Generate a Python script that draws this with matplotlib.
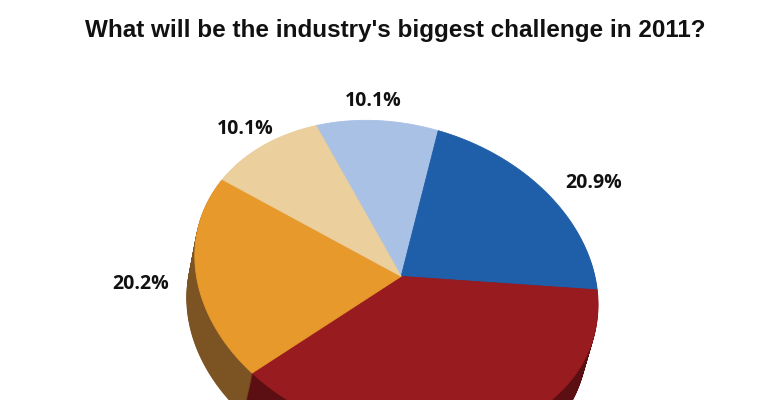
import numpy as np
import matplotlib
matplotlib.use("Agg")
import matplotlib.pyplot as plt
import matplotlib.transforms as mtransforms
from matplotlib.path import Path

# slices clockwise from the top: light blue, blue, red, orange, tan
values = [10.1, 20.9, 38.7, 20.2, 10.1]
labels = ["10.1%", "20.9%", "", "20.2%", "10.1%"]
title = "What will be the industry's biggest challenge in 2011?"

colors = ["#a9c1e5", "#1f5fa9", "#971b1f", "#e8992b", "#ebcf9d"]
sides = ["#6f86a8", "#123c6e", "#5c0f12", "#7c5424", "#9c8560"]

# perspective view of the unit pie onto the canvas (pixels), and the
# shift of the bottom face that gives the 3d rim
start = 92.75
view = np.array([[198.81, -71.027, 401.16],
                 [-29.403, -150.47, 276.36],
                 [0.032234, 0.01645, 1.0]])
drop = np.array([-6.0, 44.0, 0.01])
steps = 40


def proj(H, pts):
    p = np.column_stack([pts, np.ones(len(pts))]) @ H.T
    return p[:, :2] / p[:, 2:3]


class Persp(mtransforms.Transform):
    input_dims = output_dims = 2

    def __init__(self, H):
        super().__init__()
        self.H = H

    def transform_non_affine(self, pts):
        return proj(self.H, np.asarray(pts, float).reshape(-1, 2))

    def transform_path_non_affine(self, path):
        v = [seg(np.linspace(0, 1, 30)) for seg, code in path.iter_bezier()]
        return Path(self.transform_non_affine(np.vstack(v)), closed=True)


fig = plt.figure(figsize=(7.7, 4), dpi=100)
ax = fig.add_axes([0, 0, 1, 1])

# side of the pie: stack of darker copies from the bottom face up
for i in range(steps, 0, -1):
    Hi = view.copy()
    Hi[:, 2] += drop * i / steps
    ws, _ = ax.pie(values, colors=sides, startangle=start, counterclock=False)
    for w in ws:
        w.set_edgecolor(w.get_facecolor())
        w.set_linewidth(0.6)
        w.set_transform(Persp(Hi) + ax.transData)

# top face
ws, ts = ax.pie(values, colors=colors, labels=labels, startangle=start,
                counterclock=False, labeldistance=1.13,
                textprops=dict(fontsize=14, fontweight="bold", family="Open Sans",
                               color="#111111"))
for w in ws:
    w.set_edgecolor(w.get_facecolor())
    w.set_linewidth(0.6)
    w.set_transform(Persp(view) + ax.transData)
for t in ts:
    x, y = t.get_position()
    if abs(x) < 0.6:
        t.set_ha("center")
    t.set_va("center" if y > 0.3 else "top")
    t.set_transform(Persp(view) + ax.transData)

ax.set_aspect("auto")
ax.set_xlim(0, 770)
ax.set_ylim(400, 0)
ax.axis("off")

fig.text(0.513, 0.9225, title, ha="center", va="center", fontsize=17.5,
         fontweight="bold", family="Liberation Sans", color="#111111")

fig.savefig("out.png", dpi=100)
